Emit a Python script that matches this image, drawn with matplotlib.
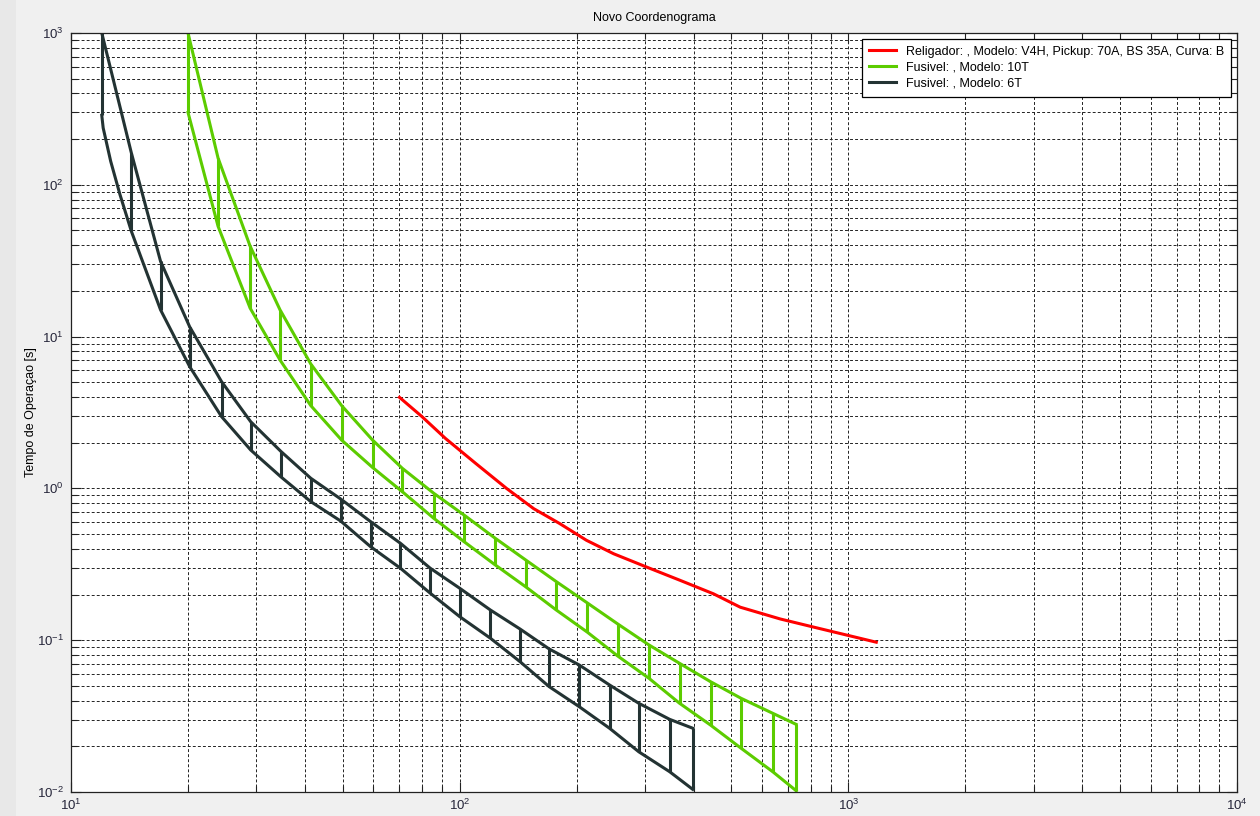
import matplotlib
matplotlib.use("Agg")
import matplotlib.pyplot as plt
from matplotlib.patches import Rectangle
from matplotlib.ticker import LogLocator, NullFormatter, LogFormatterSciNotation

plt.rcParams['font.family'] = ['Liberation Sans', 'DejaVu Sans']
plt.rcParams['mathtext.fontset'] = 'custom'
plt.rcParams['mathtext.rm'] = 'Liberation Sans'
plt.rcParams['mathtext.it'] = 'Liberation Sans:italic'

# Religador V4H, pickup 70A, curva B
rel_x = [70, 80, 92, 110, 132, 155, 181, 212, 249, 303, 369, 450, 527, 668, 814, 1180]
rel_t = [3.98, 2.97, 2.13, 1.46, 1.0, 0.736, 0.586, 0.455, 0.371, 0.303, 0.248,
         0.202, 0.165, 0.138, 0.122, 0.097]

# Fusivel 10T: corrente, tempo total de interrupcao, tempo minimo de fusao
f10_x = [20, 23.9, 28.9, 34.5, 41.4, 49.7, 59.7, 71.2, 85.8, 102.6, 123.5,
         147.8, 177.3, 213, 255, 307, 368, 442, 530, 639, 734]
f10_total = [1000, 150, 39.4, 15.0, 6.6, 3.51, 2.08, 1.356, 0.928, 0.668, 0.469,
             0.338, 0.243, 0.176, 0.128, 0.093, 0.0704, 0.0533, 0.0414, 0.033, 0.0279]
f10_melt = [300, 53.3, 15.4, 7.01, 3.51, 2.08, 1.373, 0.951, 0.635, 0.446, 0.313,
            0.225, 0.158, 0.113, 0.0787, 0.0561, 0.0384, 0.0276, 0.0194, 0.0136, 0.0102]

# Fusivel 6T
f6_x = [12, 14.3, 17, 20.2, 24.4, 29, 34.7, 41.4, 49.4, 59, 70.4, 84, 100,
        120, 143, 170, 203, 243, 289, 347, 398]
f6_total = [1000, 162, 31.3, 11.6, 5.05, 2.75, 1.75, 1.166, 0.852, 0.604, 0.435,
            0.298, 0.22, 0.158, 0.1185, 0.0875, 0.0687, 0.0507, 0.0384, 0.0301, 0.0263]
f6_melt = [287, 49.4, 15.0, 6.34, 2.97, 1.79, 1.19, 0.818, 0.61, 0.413, 0.298,
           0.204, 0.143, 0.103, 0.0722, 0.0494, 0.0365, 0.0263, 0.0184, 0.0136, 0.0104]
# the 6T melting curve bends between the first two points
f6_bend_x = [12.1, 12.65, 13.37]
f6_bend_t = [237, 143, 86]

red = '#ff0000'
green = '#5ccc00'
dark = '#233333'
lw = 2.2


def draw_fuse(ax, x, total, melt, color, label, bend_x=(), bend_t=()):
    """Band between melting and total clearing curves, with rungs at each point."""
    pts = sorted(list(zip(x, melt)) + list(zip(bend_x, bend_t)))
    ax.plot(x, total, color=color, lw=lw, label=label, solid_joinstyle='round')
    ax.plot([p[0] for p in pts], [p[1] for p in pts], color=color, lw=lw,
            solid_joinstyle='round')
    ax.vlines(x, melt, total, colors=color, lw=lw)


fig = plt.figure(figsize=(12.6, 8.16), dpi=100, facecolor='#f0f0f0')
# window frame strip on the left
fig.patches.append(Rectangle((0, 0), 16 / 1260, 1, transform=fig.transFigure,
                             facecolor='#e8e8e8', edgecolor='none', zorder=-1))
ax = fig.add_axes([71 / 1260, 1 - 792 / 816, (1237 - 71) / 1260, (792 - 33) / 816])
ax.set_xscale('log')
ax.set_yscale('log')

ax.plot(rel_x, rel_t, color=red, lw=lw,
        label='Religador: , Modelo: V4H, Pickup: 70A, BS 35A, Curva: B')
draw_fuse(ax, f10_x, f10_total, f10_melt, green, 'Fusivel: , Modelo: 10T')
draw_fuse(ax, f6_x, f6_total, f6_melt, dark, 'Fusivel: , Modelo: 6T', f6_bend_x, f6_bend_t)

ax.set_xlim(10, 1e4)
ax.set_ylim(1e-2, 1e3)
for axis in (ax.xaxis, ax.yaxis):
    axis.set_major_locator(LogLocator(base=10, numticks=10))
    axis.set_minor_locator(LogLocator(base=10, subs=range(2, 10), numticks=20))
    axis.set_major_formatter(LogFormatterSciNotation())
    axis.set_minor_formatter(NullFormatter())

ax.set_axisbelow(True)
ax.grid(True, which='both', color='#222222', linestyle=(0, (3, 2.2)), linewidth=0.7)
ax.tick_params(which='both', direction='in', top=True, right=True, width=0.8,
               labelsize=9.5, colors='#222222', labelcolor='#26263a')
ax.tick_params(which='major', length=7)
ax.tick_params(which='minor', length=4)
ax.tick_params(axis='x', pad=4.5)
ax.tick_params(axis='y', pad=5)
for sp in ax.spines.values():
    sp.set_linewidth(0.9)
    sp.set_color('#222222')

ax.set_title('Novo Coordenograma', fontsize=9, pad=9)
ax.set_ylabel('Tempo de Operaçao [s]', fontsize=9, labelpad=0)

leg = ax.legend(loc='upper right', fontsize=9, fancybox=False, framealpha=1,
                edgecolor='black', handlelength=2.2, borderaxespad=0.45,
                labelspacing=0.33, borderpad=0.55, handletextpad=0.8)
leg.get_frame().set_linewidth(0.9)

fig.savefig('out.png', dpi=100, facecolor=fig.get_facecolor())
